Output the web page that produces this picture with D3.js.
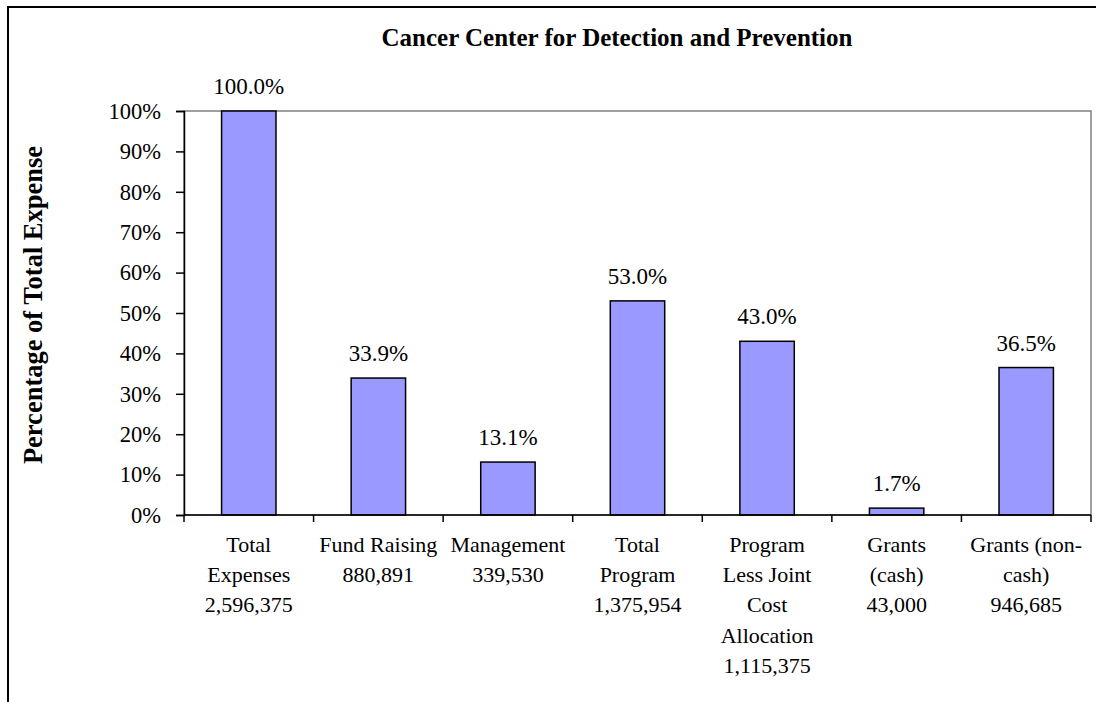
<!DOCTYPE html>
<meta charset="utf-8">
<script src="https://cdn.jsdelivr.net/npm/d3@7/dist/d3.min.js"></script>
<style>
    body { margin: 0; background: #fff; }
    svg text { font-family: "Liberation Serif", "Times New Roman", serif; fill: #000; }
</style>
<svg width="1096" height="702" class="chart"></svg>
<script>

// data
var categories = [
    ["Total", "Expenses"],
    ["Fund Raising"],
    ["Management"],
    ["Total", "Program"],
    ["Program", "Less Joint", "Cost", "Allocation"],
    ["Grants", "(cash)"],
    ["Grants (non-", "cash)"]
];
var amounts = [2596375, 880891, 339530, 1375954, 1115375, 43000, 946685];
var percents = [100.0, 33.9, 13.1, 53.0, 43.0, 1.7, 36.5];
var yTicks = [0, 10, 20, 30, 40, 50, 60, 70, 80, 90, 100];

var title = "Cancer Center for Detection and Prevention";
var yTitle = "Percentage of Total Expense";

var svg = d3.select("svg.chart"),
    margin = {top: 111, right: 5, bottom: 187, left: 184},
    width = +svg.attr("width") - margin.left - margin.right,
    height = +svg.attr("height") - margin.top - margin.bottom;

// outer chart frame
svg.append("rect")
    .attr("x", 8)
    .attr("y", 7)
    .attr("width", 1200)
    .attr("height", 800)
    .attr("fill", "none")
    .attr("stroke", "#000")
    .attr("stroke-width", 2);

svg.append("text")
    .attr("x", 617)
    .attr("y", 46)
    .attr("text-anchor", "middle")
    .style("font-size", "25px")
    .style("font-weight", "bold")
    .text(title);

svg.append("text")
    .attr("transform", "translate(42,305) rotate(-90)")
    .attr("text-anchor", "middle")
    .style("font-size", "26.5px")
    .style("font-weight", "bold")
    .text(yTitle);

var g = svg.append("g")
    .attr("transform", "translate(" + margin.left + "," + margin.top + ")");

var x = d3.scaleBand()
    .domain(d3.range(categories.length))
    .range([0, width])
    .padding(0);

var y = d3.scaleLinear()
    .domain([0, 100])
    .range([height, 0]);

// plot area border
g.append("rect")
    .attr("width", width)
    .attr("height", height)
    .attr("fill", "none")
    .attr("stroke", "#808080")
    .attr("stroke-width", 1.5);

var barW = x.bandwidth() * 0.42;

g.selectAll("rect.bar")
    .data(percents)
    .enter()
    .append("rect")
    .classed("bar", true)
    .attr("x", function(d, i) { return x(i) + x.bandwidth() / 2 - barW / 2; })
    .attr("y", function(d) { return y(d); })
    .attr("width", barW)
    .attr("height", function(d) { return height - y(d); })
    .attr("fill", "#9999ff")
    .attr("stroke", "#000")
    .attr("stroke-width", 1.5);

g.selectAll("text.val")
    .data(percents)
    .enter()
    .append("text")
    .classed("val", true)
    .attr("x", function(d, i) { return x(i) + x.bandwidth() / 2; })
    .attr("y", function(d) { return y(d) - 17; })
    .attr("text-anchor", "middle")
    .style("font-size", "23px")
    .text(function(d) { return d.toFixed(1) + "%"; });

// y axis
var yAxis = d3.axisLeft(y)
    .tickValues(yTicks)
    .tickSize(8)
    .tickPadding(15)
    .tickFormat(function(d) { return d + "%"; });

var ya = g.append("g").call(yAxis);
ya.attr("font-family", null).attr("font-size", null);
ya.select(".domain").attr("stroke", "#000").attr("stroke-width", 1.5);
ya.selectAll(".tick line").attr("stroke", "#000").attr("stroke-width", 1.5);
ya.selectAll(".tick text").style("font-size", "22.5px");

// x axis: ticks at category boundaries
var xb = g.append("g").attr("transform", "translate(0," + height + ")");
xb.append("line")
    .attr("x1", 0).attr("x2", width)
    .attr("stroke", "#000")
    .attr("stroke-width", 1.5);
xb.selectAll("line.tk")
    .data(d3.range(categories.length + 1))
    .enter()
    .append("line")
    .classed("tk", true)
    .attr("x1", function(i) { return i < categories.length ? x(i) : width; })
    .attr("x2", function(i) { return i < categories.length ? x(i) : width; })
    .attr("y1", 0)
    .attr("y2", 7)
    .attr("stroke", "#000")
    .attr("stroke-width", 1.5);

var fmt = d3.format(",");
var labels = xb.selectAll("text.cat")
    .data(categories)
    .enter()
    .append("text")
    .classed("cat", true)
    .attr("text-anchor", "middle")
    .style("font-size", "22px")
    .attr("transform", function(d, i) { return "translate(" + (x(i) + x.bandwidth() / 2) + ",37)"; });

labels.selectAll("tspan")
    .data(function(d, i) { return d.concat([fmt(amounts[i])]); })
    .enter()
    .append("tspan")
    .attr("x", 0)
    .attr("y", function(d, j) { return j * 30.2; })
    .text(function(d) { return d; });

</script>
